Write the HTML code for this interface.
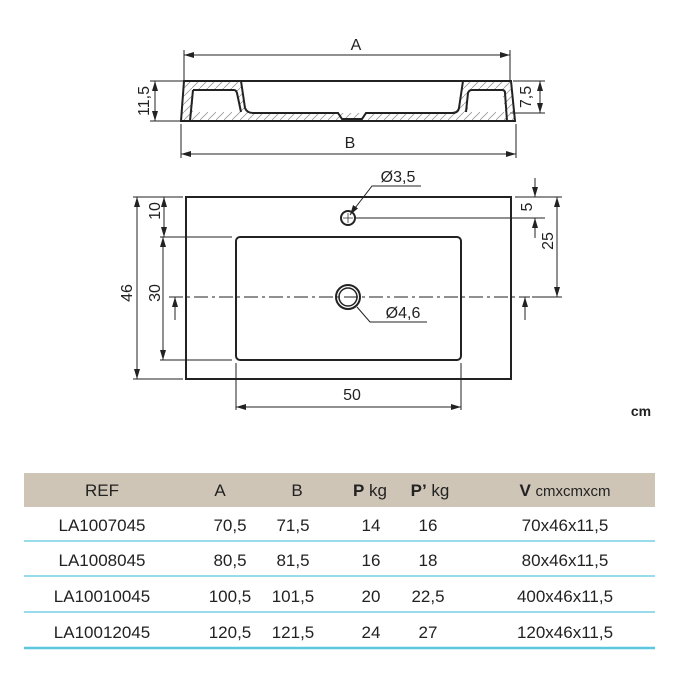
<!DOCTYPE html>
<html><head><meta charset="utf-8"><style>
body{margin:0;background:#fff;}
svg{display:block;font-family:"Liberation Sans",sans-serif;}
</style></head><body>
<svg width="700" height="700" viewBox="0 0 700 700" xmlns="http://www.w3.org/2000/svg">
<defs>
<marker id="ar" viewBox="0 0 10 6" refX="10" refY="3" markerWidth="10" markerHeight="6" orient="auto-start-reverse" markerUnits="userSpaceOnUse"><path d="M0,0 L10,3 L0,6 z" fill="#222"/></marker>
<pattern id="h" width="8" height="8" patternUnits="userSpaceOnUse"><path d="M0,8 L8,0" stroke="#999" stroke-width="0.8"/></pattern>
</defs>
<g stroke="#222" fill="none" stroke-width="1">
<!-- side view -->
<line x1="184" y1="50" x2="184" y2="80"/><line x1="510" y1="50" x2="510" y2="80"/>
<line x1="184" y1="55" x2="510" y2="55" marker-start="url(#ar)" marker-end="url(#ar)"/>
<line x1="181" y1="124" x2="181" y2="158"/><line x1="516" y1="124" x2="516" y2="158"/>
<line x1="181" y1="154" x2="516" y2="154" marker-start="url(#ar)" marker-end="url(#ar)"/>
<line x1="150" y1="81" x2="183" y2="81"/><line x1="150" y1="121" x2="180" y2="121"/>
<line x1="155" y1="81" x2="155" y2="121" marker-start="url(#ar)" marker-end="url(#ar)"/>
<line x1="513" y1="81" x2="545" y2="81"/><line x1="510" y1="113" x2="545" y2="113"/>
<line x1="540" y1="81" x2="540" y2="113" marker-start="url(#ar)" marker-end="url(#ar)"/>
<path fill-rule="evenodd" d="M184,81 L511,81 L515,121 L181,121 Z M193,90 L236,90 L240,112 L193,112 Z M241,81 L245,108 Q247,113 253,113 L452,113 Q458,113 459,108 L463,81 Z M468,90 L502,90 L505,112 L468,112 Z" fill="url(#h)" stroke="none"/>
<path d="M184,81 L511,81 L515,121 L181,121 Z" stroke-width="2"/>
<path d="M193,90 L234,90 Q236,90 237,93 L241,112 M190,121 L193,90 M466,112 L468,93 Q469,90 472,90 L502,90 Q505,90 505,93 L507,121" stroke-width="2"/>
<path d="M241,81 L245,108 Q247,113 253,113 L338,113 L342,119 L362,119 L366,113 L452,113 Q458,113 459,108 L463,81" stroke-width="2"/>
<!-- top view -->
<rect x="186" y="197" width="325" height="182" stroke-width="2"/>
<rect x="236" y="237" width="225" height="123" rx="4" stroke-width="2"/>
<line x1="169" y1="297" x2="530" y2="297" stroke-dasharray="14,4,3,4"/>
<circle cx="348" cy="218" r="7" stroke-width="2"/>
<line x1="343" y1="218" x2="353" y2="218" stroke-width="0.7"/><line x1="348" y1="213" x2="348" y2="223" stroke-width="0.7"/>
<circle cx="348" cy="297" r="12" stroke-width="2"/><circle cx="348" cy="297" r="9" stroke-width="1.5"/>
<line x1="355" y1="218" x2="545" y2="218"/>
<!-- left dims -->
<line x1="133" y1="197" x2="183" y2="197"/><line x1="133" y1="379" x2="183" y2="379"/>
<line x1="137" y1="197" x2="137" y2="379" marker-start="url(#ar)" marker-end="url(#ar)"/>
<line x1="160" y1="237" x2="232" y2="237"/><line x1="160" y1="360" x2="232" y2="360"/>
<line x1="164" y1="197" x2="164" y2="237" marker-start="url(#ar)" marker-end="url(#ar)"/>
<line x1="163" y1="237" x2="163" y2="360" marker-start="url(#ar)" marker-end="url(#ar)"/>
<line x1="175" y1="320" x2="175" y2="297" marker-end="url(#ar)"/>
<!-- right dims -->
<line x1="515" y1="197" x2="562" y2="197"/><line x1="532" y1="297" x2="562" y2="297"/>
<line x1="535" y1="178" x2="535" y2="197" marker-end="url(#ar)"/>
<line x1="535" y1="238" x2="535" y2="218" marker-end="url(#ar)"/>
<line x1="557" y1="197" x2="557" y2="297" marker-start="url(#ar)" marker-end="url(#ar)"/>
<line x1="525" y1="320" x2="525" y2="297" marker-end="url(#ar)"/>
<!-- bottom dim -->
<line x1="236" y1="363" x2="236" y2="410"/><line x1="461" y1="363" x2="461" y2="410"/>
<line x1="236" y1="407" x2="461" y2="407" marker-start="url(#ar)" marker-end="url(#ar)"/>
<!-- leaders -->
<polyline points="421,186 372,186 352,212" /><line x1="352" y1="212" x2="350" y2="215" marker-end="url(#ar)"/>
<polyline points="427,322 370,322 357,307"/>
</g>
<g fill="#222" font-size="16">
<text x="356" y="50" text-anchor="middle">A</text>
<text x="350" y="148" text-anchor="middle">B</text>
<text transform="translate(149,101) rotate(-90)" text-anchor="middle">11,5</text>
<text transform="translate(531,97) rotate(-90)" text-anchor="middle">7,5</text>
<text x="398" y="182" text-anchor="middle">Ø3,5</text>
<text x="403" y="318" text-anchor="middle">Ø4,6</text>
<text x="352" y="400" text-anchor="middle">50</text>
<text transform="translate(132,293) rotate(-90)" text-anchor="middle">46</text>
<text transform="translate(160,211) rotate(-90)" text-anchor="middle">10</text>
<text transform="translate(160,293) rotate(-90)" text-anchor="middle">30</text>
<text transform="translate(532,207) rotate(-90)" text-anchor="middle">5</text>
<text transform="translate(553,241) rotate(-90)" text-anchor="middle">25</text>
<text x="641" y="416" text-anchor="middle" font-weight="bold" font-size="14">cm</text>
</g>
<!-- table -->
<rect x="24" y="473" width="631" height="34" fill="#cfc5b6"/>
<g stroke="#5bc8e0"><line x1="24" y1="541" x2="655" y2="541" stroke-width="1.2"/><line x1="24" y1="576" x2="655" y2="576" stroke-width="1.2"/><line x1="24" y1="612" x2="655" y2="612" stroke-width="1.2"/><line x1="24" y1="648" x2="655" y2="648" stroke-width="2.5"/></g>
<g fill="#222" font-size="17" text-anchor="middle">
<text x="102" y="496">REF</text><text x="220" y="496">A</text><text x="297" y="496">B</text>
<text x="370" y="496"><tspan font-weight="bold">P</tspan> kg</text>
<text x="430" y="496"><tspan font-weight="bold">P’</tspan> kg</text>
<text x="565" y="496"><tspan font-weight="bold">V</tspan> <tspan font-size="15">cmxcmxcm</tspan></text>
<text x="102" y="531">LA1007045</text><text x="230" y="531">70,5</text><text x="293" y="531">71,5</text><text x="371" y="531">14</text><text x="428" y="531">16</text><text x="565" y="531">70x46x11,5</text>
<text x="102" y="566">LA1008045</text><text x="230" y="566">80,5</text><text x="293" y="566">81,5</text><text x="371" y="566">16</text><text x="428" y="566">18</text><text x="565" y="566">80x46x11,5</text>
<text x="102" y="602">LA10010045</text><text x="230" y="602">100,5</text><text x="293" y="602">101,5</text><text x="371" y="602">20</text><text x="428" y="602">22,5</text><text x="565" y="602">400x46x11,5</text>
<text x="102" y="638">LA10012045</text><text x="230" y="638">120,5</text><text x="293" y="638">121,5</text><text x="371" y="638">24</text><text x="428" y="638">27</text><text x="565" y="638">120x46x11,5</text>
</g>
</svg>
</body></html>
